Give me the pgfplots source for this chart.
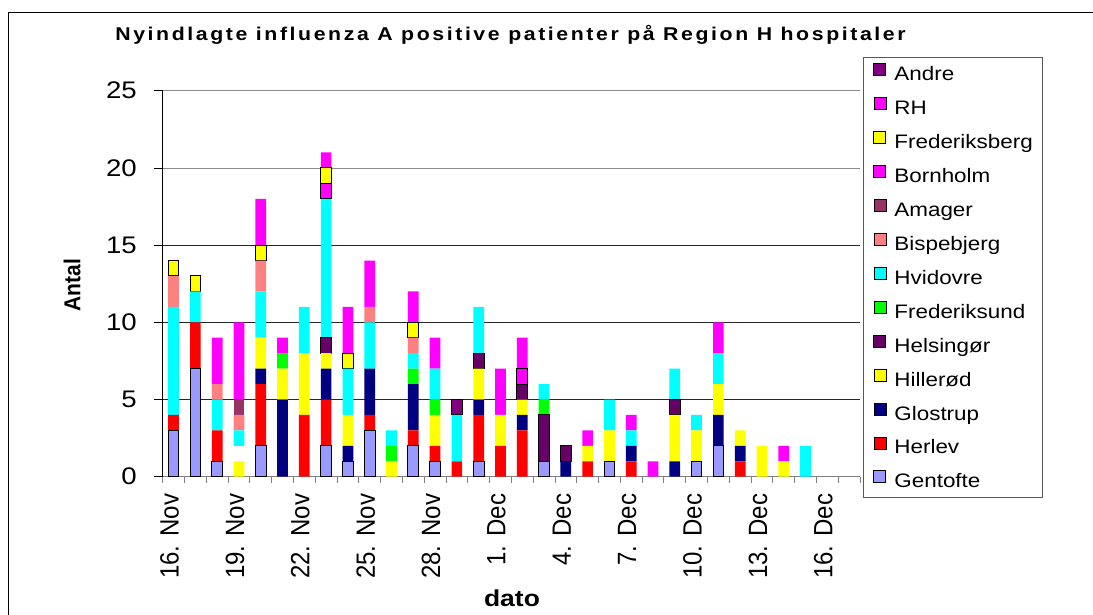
\documentclass[border=0pt]{standalone}
\usepackage{pgfplots}
\usepackage{pgfplotstable}
\pgfplotsset{compat=1.18}
\usepackage{fontspec}
\setmainfont{Liberation Sans}[FakeStretch=1.15]
\newfontfamily\rotfont{Liberation Sans}
\newfontfamily\titlefont{Liberation Sans}[FakeStretch=1.15, LetterSpace=14]
\definecolor{cGentofte}{HTML}{9999FF}
\definecolor{cHerlev}{HTML}{FF0000}
\definecolor{cGlostrup}{HTML}{000080}
\definecolor{cHillerod}{HTML}{FFFF00}
\definecolor{cHelsingor}{HTML}{660066}
\definecolor{cFrederiksund}{HTML}{00FF00}
\definecolor{cHvidovre}{HTML}{00FFFF}
\definecolor{cBispebjerg}{HTML}{FF8080}
\definecolor{cAmager}{HTML}{993366}
\definecolor{cBornholm}{HTML}{FF00FF}
\definecolor{cFrederiksberg}{HTML}{FFFF00}
\definecolor{cRH}{HTML}{FF00FF}
\definecolor{cAndre}{HTML}{800080}
\newcommand\xl[1]{\scalebox{1}[1.1]{#1}}
\pgfplotstableread{
d Gen Her Glo Hil Wht Hel Frs Hvi Bis Ama Bor Frb RH And
0 3 1 0 0 0 0 0 7 2 0 0 1 0 0
1 7 3 0 0 0 0 0 2 0 0 0 1 0 0
2 1 2 0 0 0 0 0 2 1 0 0 0 3 0
3 0 0 0 1 1 0 0 1 1 1 0 0 5 0
4 2 4 1 2 0 0 0 3 2 0 0 1 3 0
5 0 0 5 2 0 0 1 0 0 0 0 0 1 0
6 0 4 0 4 0 0 0 3 0 0 0 0 0 0
7 2 3 2 1 0 1 0 9 0 0 1 1 1 0
8 1 0 1 2 0 0 0 3 0 0 0 1 3 0
9 3 1 3 0 0 0 0 3 1 0 0 0 3 0
10 0 0 0 1 0 0 1 1 0 0 0 0 0 0
11 2 1 3 0 0 0 1 1 1 0 0 1 2 0
12 1 1 0 2 0 0 1 2 0 0 0 0 2 0
13 0 1 0 0 0 0 0 3 0 0 0 0 0 1
14 1 3 1 2 0 1 0 3 0 0 0 0 0 0
15 0 2 0 2 0 0 0 0 0 0 0 0 3 0
16 0 3 1 1 0 1 0 0 0 0 1 0 2 0
17 1 0 0 0 0 3 1 1 0 0 0 0 0 0
18 0 0 1 0 0 1 0 0 0 0 0 0 0 0
19 0 1 0 1 0 0 0 0 0 0 0 0 1 0
20 1 0 0 2 0 0 0 2 0 0 0 0 0 0
21 0 1 1 0 0 0 0 1 0 0 0 0 1 0
22 0 0 0 0 0 0 0 0 0 0 0 0 1 0
23 0 0 1 3 0 1 0 2 0 0 0 0 0 0
24 1 0 0 2 0 0 0 1 0 0 0 0 0 0
25 2 0 2 2 0 0 0 2 0 0 0 0 2 0
26 0 1 1 1 0 0 0 0 0 0 0 0 0 0
27 0 0 0 2 0 0 0 0 0 0 0 0 0 0
28 0 0 0 1 0 0 0 0 0 0 0 0 1 0
29 0 0 0 0 0 0 0 2 0 0 0 0 0 0
30 0 0 0 0 0 0 0 0 0 0 0 0 0 0
31 0 0 0 0 0 0 0 0 0 0 0 0 0 0
}\data
\pgfplotsset{
  sq/.style={legend image code/.code={\draw[##1] (0pt,0pt) rectangle (12pt,12pt);}},
  bd/.style={sq, draw=black, line width=1pt},
  nb/.style={sq, draw=none},
}
\begin{document}
\begin{tikzpicture}
\clip (0pt,0pt) rectangle (1093pt,614pt);
\fill[white] (0pt,0pt) rectangle (1093pt,614pt);
\draw[line width=1pt] (8pt,-10pt) -- (8pt,601pt) -- (1110pt,601pt);
\begin{axis}[
  at={(162.7pt,137.3pt)}, anchor=south west,
  scale only axis, width=697.3pt, height=386pt,
  ybar stacked, stacked ignores zero, bar width=10.7pt,
  xmin=-0.5, xmax=31.5, ymin=0, ymax=25,
  axis x line*=bottom, axis y line*=left,
  x axis line style={draw=gray, line width=1pt},
  y axis line style={draw=black, line width=1pt},
  /pgf/number format/assume math mode=true,
  ytick={0,5,10,15}, extra y ticks={20,25},
  extra y tick style={grid style={black!45, line width=0.8pt}},
  ymajorgrids, grid style={black!85, line width=0.8pt},
  tick align=outside, major tick length=9pt, minor tick length=6pt,
  every major tick/.append style={line width=0.8pt, black},
  every major x tick/.append style={draw=none},
  every minor tick/.append style={line width=0.8pt, gray},
  xtick={0,3,...,30},
  minor xtick={-0.5,0.5,...,31.5},
  xticklabels={\xl{16. Nov},\xl{19. Nov},\xl{22. Nov},\xl{25. Nov},\xl{28. Nov},\xl{1. Dec},\xl{4. Dec},\xl{7. Dec},\xl{10. Dec},\xl{13. Dec},\xl{16. Dec}},
  xticklabel style={yshift=-8pt, xshift=-4pt, rotate=90, anchor=east, inner sep=0pt, font=\rotfont\fontsize{24}{24}\selectfont},
  yticklabel style={anchor=east, inner sep=0pt, font=\fontsize{24}{24}\selectfont, xshift=-16.7pt},
  legend style={at={(1.0043,1.0865)}, anchor=north west, draw=black!65, line width=0.8pt,
    font=\fontsize{19.5}{19.5}\selectfont, inner xsep=10pt, inner ysep=5.5pt,
    row sep=12.5pt, column sep=8pt,
    nodes={inner sep=0pt, text height=14pt, text depth=4pt}},
  legend cell align=left, reverse legend,
]
\addplot[bd, fill=cGentofte] table[x=d,y=Gen]{\data}; \addlegendentry{Gentofte}
\addplot[nb, fill=cHerlev] table[x=d,y=Her]{\data}; \addlegendentry{Herlev}
\addplot[nb, fill=cGlostrup] table[x=d,y=Glo]{\data}; \addlegendentry{Glostrup}
\addplot[nb, fill=cHillerod] table[x=d,y=Hil]{\data}; \addlegendentry{Hillerød}
\addplot[nb, fill=white, forget plot] table[x=d,y=Wht]{\data};
\addplot[bd, fill=cHelsingor] table[x=d,y=Hel]{\data}; \addlegendentry{Helsingør}
\addplot[nb, fill=cFrederiksund] table[x=d,y=Frs]{\data}; \addlegendentry{Frederiksund}
\addplot[nb, fill=cHvidovre] table[x=d,y=Hvi]{\data}; \addlegendentry{Hvidovre}
\addplot[nb, fill=cBispebjerg] table[x=d,y=Bis]{\data}; \addlegendentry{Bispebjerg}
\addplot[nb, fill=cAmager] table[x=d,y=Ama]{\data}; \addlegendentry{Amager}
\addplot[bd, fill=cBornholm] table[x=d,y=Bor]{\data}; \addlegendentry{Bornholm}
\addplot[bd, fill=cFrederiksberg] table[x=d,y=Frb]{\data}; \addlegendentry{Frederiksberg}
\addplot[nb, fill=cRH] table[x=d,y=RH]{\data}; \addlegendentry{RH}
\addplot[bd, fill=cAndre] table[x=d,y=And]{\data}; \addlegendentry{Andre}
\end{axis}
\node[anchor=base] at (510.5pt,573.3pt) {\titlefont\bfseries\fontsize{18.5}{18.5}\selectfont Nyindlagte influenza A positive patienter på Region H hospitaler};
\node[rotate=90] at (72pt,329pt) {\rotfont\bfseries\fontsize{21}{21}\selectfont\xl{Antal}};
\node at (512pt,16pt) {\bfseries\fontsize{23}{23}\selectfont dato};
\end{tikzpicture}
\end{document}
